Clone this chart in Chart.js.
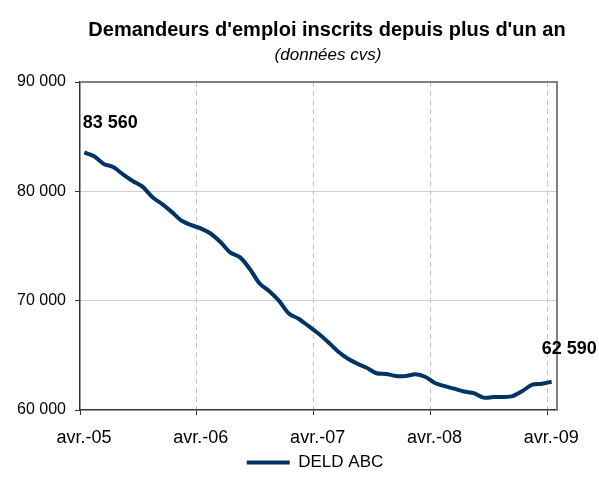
<!DOCTYPE html>
<html><head><meta charset="utf-8">
<script src="https://cdn.jsdelivr.net/npm/chart.js@4/dist/chart.umd.min.js"></script>
<style>html,body{margin:0;padding:0;background:#fff}#wrap{width:599px;height:492px}</style>
</head><body><div id="wrap"><canvas id="c" width="599" height="492"></canvas></div>
<script>
const chartTitle = "Demandeurs d'emploi inscrits depuis plus d'un an";
const chartSubtitle = "(données cvs)";
const seriesName = "DELD ABC";
const months = [
  "avr.-05","mai-05","juin-05","juil.-05","août-05","sept.-05","oct.-05","nov.-05","déc.-05","janv.-06","févr.-06","mars-06",
  "avr.-06","mai-06","juin-06","juil.-06","août-06","sept.-06","oct.-06","nov.-06","déc.-06","janv.-07","févr.-07","mars-07",
  "avr.-07","mai-07","juin-07","juil.-07","août-07","sept.-07","oct.-07","nov.-07","déc.-07","janv.-08","févr.-08","mars-08",
  "avr.-08","mai-08","juin-08","juil.-08","août-08","sept.-08","oct.-08","nov.-08","déc.-08","janv.-09","févr.-09","mars-09",
  "avr.-09"
];
const deldAbc = [
  83560,83200,82510,82210,81520,80920,80410,79460,78830,78100,77310,76900,
  76590,76120,75340,74390,73960,72890,71570,70870,69980,68820,68350,67690,
  67020,66250,65400,64730,64250,63860,63360,63300,63120,63110,63260,63040,
  62470,62180,61950,61690,61540,61130,61180,61190,61270,61740,62310,62400,
  62590
];
const xTickLabels = ["avr.-05","avr.-06","avr.-07","avr.-08","avr.-09"];
const xTickMonths = [0,12,24,36,48];
const yTicks = [60000,70000,80000,90000];

const FONT = "'Liberation Sans', Arial, sans-serif";
const NAVY = '#003366';
const fmt = v => String(Math.round(v)).replace(/\B(?=(\d{3})+(?!\d))/g, ' ');

const points = deldAbc.map((v, i) => ({x: i + 0.45, y: v}));

const framePlugin = {
  id: 'frame',
  beforeDatasetsDraw(chart) {
    const {ctx, chartArea: a} = chart;
    ctx.save();
    ctx.strokeStyle = '#808080';
    ctx.lineWidth = 2;
    ctx.beginPath();
    ctx.moveTo(a.left, a.top);
    ctx.lineTo(a.right, a.top);
    ctx.lineTo(a.right, a.bottom);
    ctx.stroke();
    ctx.restore();
  }
};

const titlePlugin = {
  id: 'titles',
  afterDraw(chart) {
    const {ctx} = chart;
    ctx.save();
    ctx.fillStyle = '#000';
    ctx.textAlign = 'center';
    ctx.textBaseline = 'middle';
    ctx.font = "bold 20px " + FONT;
    ctx.fillText(chartTitle, 327, 30);
    ctx.font = "italic 17px " + FONT;
    ctx.fillText(chartSubtitle, 328, 55);
    ctx.restore();
  }
};

const labelPlugin = {
  id: 'endLabels',
  afterDatasetsDraw(chart) {
    const {ctx} = chart;
    const meta = chart.getDatasetMeta(0);
    const ds = chart.data.datasets[0].data;
    const first = meta.data[0], last = meta.data[meta.data.length - 1];
    ctx.save();
    ctx.fillStyle = '#000';
    ctx.font = "bold 18px " + FONT;
    ctx.textBaseline = 'middle';
    ctx.textAlign = 'left';
    ctx.fillText(fmt(ds[0].y), first.x - 1.7, first.y - 29);
    ctx.fillText(fmt(ds[ds.length - 1].y), last.x - 10, last.y - 33);
    ctx.restore();
  }
};

new Chart(document.getElementById('c'), {
  type: 'line',
  data: {
    datasets: [{
      label: seriesName,
      data: points,
      borderColor: NAVY,
      backgroundColor: NAVY,
      borderWidth: 4,
      pointRadius: 0,
      pointStyle: 'line',
      tension: 0.3,
      fill: false
    }]
  },
  options: {
    responsive: false,
    animation: false,
    layout: {padding: {left: 73, right: 42, top: 82, bottom: 11}},
    plugins: {
      title: {display: false},
      legend: {position: 'bottom', labels: {color: '#000', usePointStyle: true, pointStyleWidth: 43,
        boxHeight: 4, font: {family: FONT, size: 17}, padding: 8}},
      tooltip: {enabled: false}
    },
    scales: {
      x: {
        type: 'linear', min: 0, max: 49,
        afterBuildTicks: s => { s.ticks = xTickMonths.map(v => ({value: v})); },
        afterFit: s => { s.height = 36; },
        ticks: {color: '#000', font: {family: FONT, size: 18}, padding: 12, labelOffset: 4, maxRotation: 0,
          callback: (v) => xTickLabels[xTickMonths.indexOf(v)]},
        grid: {color: c => c.tick && c.tick.value === 0 ? 'rgba(0,0,0,0)' : '#c4c4c4',
          tickBorderDash: [], tickColor: '#333', tickLength: 5, lineWidth: 1},
        border: {color: '#333', width: 1.5, dash: [5, 4]}
      },
      y: {
        min: 60000, max: 90000,
        afterBuildTicks: s => { s.ticks = yTicks.map(v => ({value: v})); },
        afterFit: s => { s.width = 7; },
        ticks: {color: '#000', font: {family: FONT, size: 16}, mirror: true, crossAlign: 'near',
          padding: -63, callback: v => fmt(v)},
        grid: {color: c => c.tick && (c.tick.value === 60000) ? 'rgba(0,0,0,0)' : '#d0d0d0',
          tickColor: '#333', tickLength: 5, lineWidth: 1},
        border: {color: '#333', width: 1.5}
      }
    }
  },
  plugins: [framePlugin, labelPlugin, titlePlugin]
});
</script>
</body></html>
